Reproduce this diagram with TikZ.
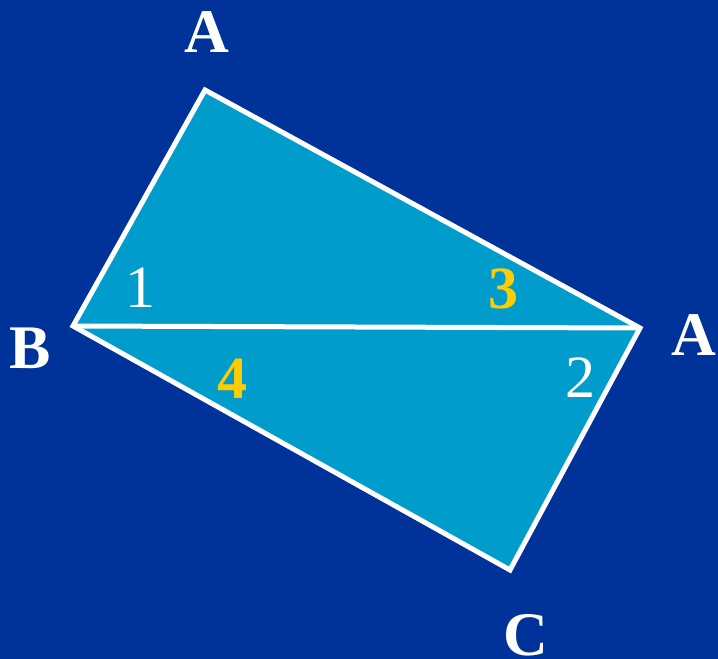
\documentclass[tikz,border=0pt]{standalone}
\usepackage{fontspec}
\setmainfont{Liberation Serif}
\definecolor{bgblue}{HTML}{003399}
\definecolor{fillblue}{HTML}{009CCB}
\definecolor{gold}{HTML}{FFCC00}
\begin{document}
\begin{tikzpicture}[x=1pt,y=-1pt,
  lbl/.style={text=white,font=\fontsize{62}{62}\selectfont\bfseries,inner sep=0pt,anchor=base},
  num/.style={font=\fontsize{60}{60}\selectfont,inner sep=0pt,anchor=base},
  edge/.style={draw=white,line width=5pt,line join=miter}]
\useasboundingbox (0,0) rectangle (718,659);
\fill[bgblue] (0,0) rectangle (718,659);
\coordinate (A) at (205,90);
\coordinate (B) at (73,326);
\coordinate (D) at (640,328);
\coordinate (C) at (510,570);
\fill[fillblue] (A) -- (D) -- (C) -- (B) -- cycle;
\draw[edge] (B) -- (A) -- (D) -- (C) -- cycle;
\draw[edge] (B) -- (D);
\node[lbl] (la) at (207,52) {A};
\node[lbl] (lb) at (30,368) {B};
\node[lbl] (ld) at (694,355) {A};
\node[lbl] (lc) at (526,655) {C};
\node[num,text=white] (n1) at (140,307) {1};
\node[num,text=gold,font=\fontsize{60}{60}\selectfont\bfseries] (n3) at (503,308) {3};
\node[num,text=gold,font=\fontsize{60}{60}\selectfont\bfseries] (n4) at (232,398) {4};
\node[num,text=white] (n2) at (580,397) {2};
\end{tikzpicture}
\end{document}
